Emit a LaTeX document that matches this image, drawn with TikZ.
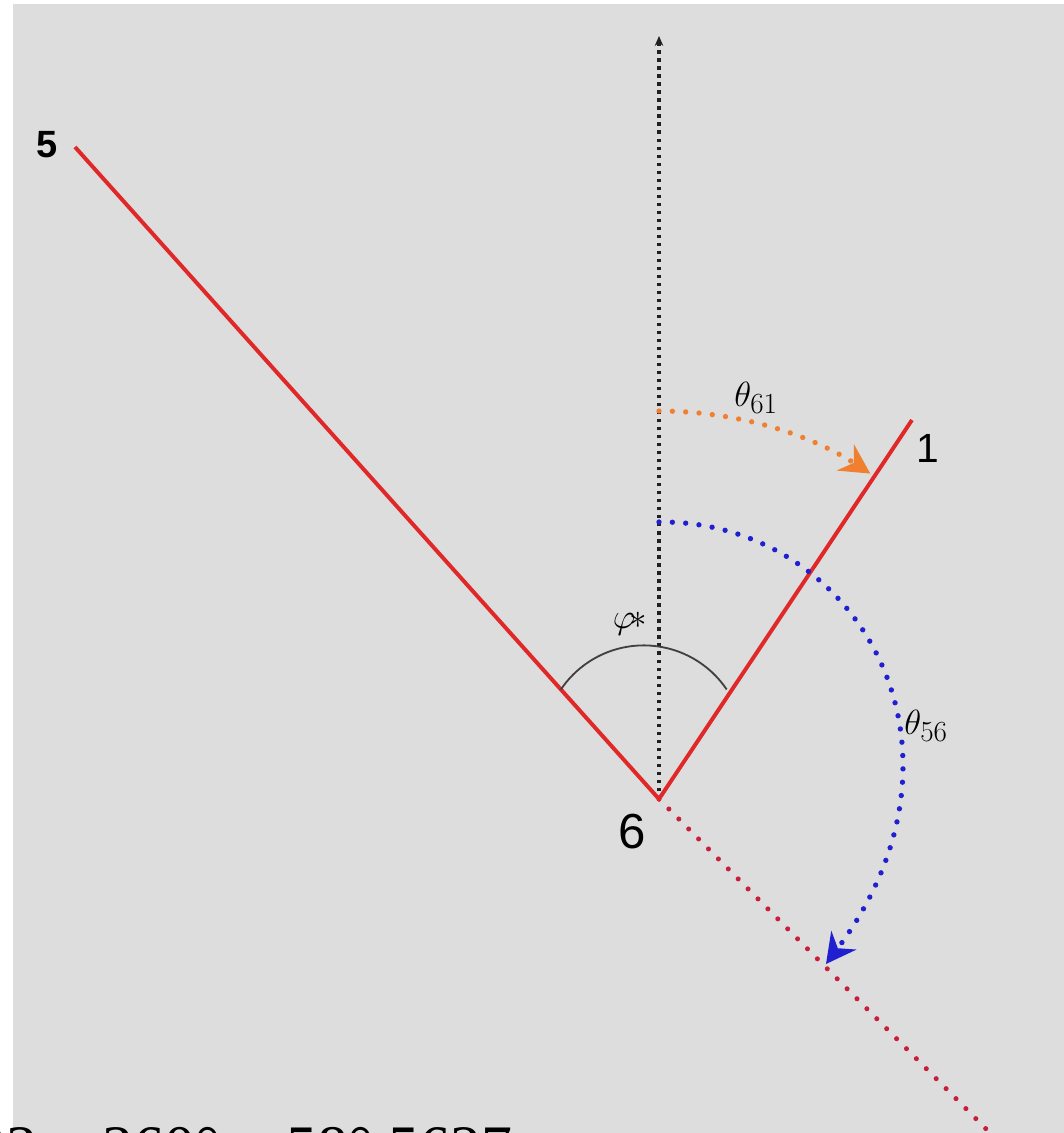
\documentclass[tikz,border=0pt]{standalone}
\usepackage{fontspec}
\setmainfont{Liberation Serif}
\newfontfamily\labelfont{Liberation Sans}
\usetikzlibrary{arrows.meta,calc}
\definecolor{bggray}{HTML}{DDDDDD}
\definecolor{legred}{HTML}{E02828}
\definecolor{dotred}{HTML}{C81E3C}
\definecolor{dotorange}{HTML}{F08030}
\definecolor{dotblue}{HTML}{2020D0}
\definecolor{axisgray}{HTML}{202020}

\begin{document}
\begin{tikzpicture}[x=0.025cm, y=-0.025cm,
  leg/.style={draw=legred, line width=2.8pt},
  legext/.style={draw=dotred, line width=3.6pt, line cap=round, dash pattern=on 0pt off 10pt},
  axis/.style={draw=axisgray, line width=2.3pt, dash pattern=on 2.3pt off 3.4pt,
    -{Stealth[length=7pt, width=6pt]}},
  anglemark/.style={draw=black!75, line width=1.3pt},
  turn/.style={draw=#1, line width=3.8pt, line cap=round, dash pattern=on 0pt off 9.5pt,
    -{Stealth[length=21pt, width=22pt, inset=7pt]}},
  ptlabel/.style={inner sep=0pt, font=\labelfont\fontsize{#1}{#1}\selectfont},
  anglabel/.style={inner sep=0pt, font=\fontsize{30}{33}\selectfont}
]
  % background
  \fill[white] (0,0) rectangle (1064,1133);
  \fill[bggray] (13,4) rectangle (1064,1133);
  \useasboundingbox (0,0) rectangle (1064,1133);

  % points
  \coordinate (v6) at (659,799);
  \coordinate (p5) at (75,147);
  \coordinate (p1) at (912,420);
  \coordinate (top) at (659,36);
  \coordinate (ext) at (997,1140);

  % legs
  \draw[legext] (v6) -- (ext);
  \draw[axis] (v6) -- (top);
  \draw[leg] (p5) -- (v6) -- (p1);

  % angle phi*
  \draw[anglemark] ($(v6)!0.168!(p5)$) arc[start angle=-146, end angle=-34, radius=100];
  \node[anglabel] (phi) at (630,624) {$\varphi\!\ast$};

  % theta_61
  \coordinate (t61s) at (659,411);
  \draw[turn=dotorange] (t61s) arc[start angle=-90, end angle=-57, radius=388];
  \node[anglabel] (t61) at (756,398) {$\theta_{61}$};

  % theta_56
  \coordinate (t56s) at (659,522);
  \coordinate (t56e) at (826,964);
  \draw[turn=dotblue] (t56s) .. controls (855,520) and (990,745) .. (t56e);
  \node[anglabel] (t56) at (926,726) {$\theta_{56}$};

  % point labels
  \node[inner sep=0pt, font=\labelfont\bfseries\fontsize{27}{27}\selectfont] (n5) at (47,145) {5};
  \node[ptlabel=29] (n1) at (928,448) {1};
  \node[ptlabel=35] (n6) at (632,832) {6};

  % clipped equation line
  \node[anchor=base west, inner sep=0pt, font=\fontsize{44}{48}\selectfont] (eq) at (-25,1168)
    {23 = 360° − 58° 5627};
\end{tikzpicture}
\end{document}
